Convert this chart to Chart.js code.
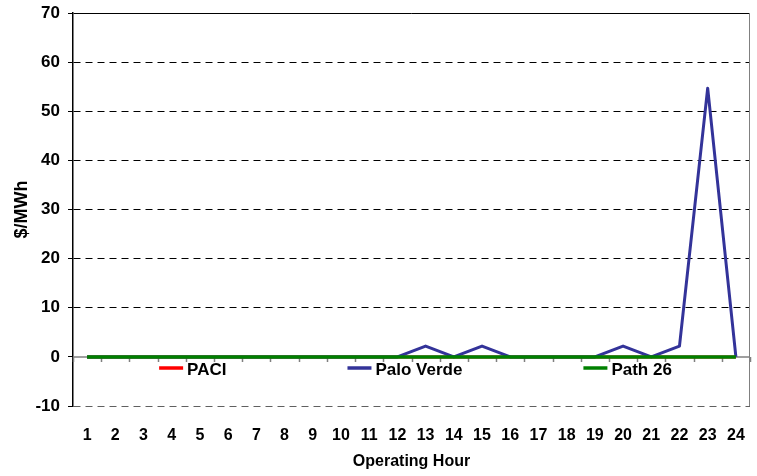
<!DOCTYPE html>
<html>
<head>
<meta charset="utf-8">
<script src="https://cdn.jsdelivr.net/npm/chart.js@4"></script>
<style>
  html, body { margin: 0; padding: 0; background: #fff; }
  #wrap { width: 757px; height: 476px; }
</style>
</head>
<body>
<div id="wrap"><canvas id="chart" width="757" height="476"></canvas></div>
<script>
// Operating hours (x categories)
const hours = ['1', '2', '3', '4', '5', '6', '7', '8', '9', '10', '11', '12',
               '13', '14', '15', '16', '17', '18', '19', '20', '21', '22', '23', '24'];

// $/MWh per hour
const paci      = [0, 0, 0, 0, 0, 0, 0, 0, 0, 0, 0, 0, 0, 0, 0, 0, 0, 0, 0, 0, 0, 0, 0, 0];
const paloVerde = [0, 0, 0, 0, 0, 0, 0, 0, 0, 0, 0, 0, 2.2, 0, 2.2, 0, 0, 0, 0, 2.2, 0, 2.2, 54.7, 0];
const path26    = [0, 0, 0, 0, 0, 0, 0, 0, 0, 0, 0, 0, 0, 0, 0, 0, 0, 0, 0, 0, 0, 0, 0, 0];

const FONT = 'Arial, "Liberation Sans", Helvetica, sans-serif';

// Zero axis line, category tick marks, frame and the in-plot legend
const frameAndLegend = {
    id: 'frameAndLegend',
    beforeDatasetsDraw(chart) {
        const { ctx, chartArea: a, scales: { x, y } } = chart;
        const y0 = y.getPixelForValue(0);
        ctx.save();
        ctx.strokeStyle = '#808080';
        ctx.lineWidth = 1.5;
        ctx.beginPath();
        ctx.moveTo(a.left, y0);
        ctx.lineTo(a.right, y0);
        for (let i = 0; i <= hours.length; i++) {
            const px = Math.round(x.getPixelForValue(i - 0.5)) + 0.5;
            ctx.moveTo(px, y0);
            ctx.lineTo(px, y0 + 5);
        }
        ctx.stroke();
        // right frame
        ctx.strokeStyle = '#808080';
        ctx.lineWidth = 1;
        ctx.beginPath();
        ctx.moveTo(a.right - 0.5, a.top);
        ctx.lineTo(a.right - 0.5, a.bottom);
        ctx.stroke();
        ctx.restore();
    },
    afterDraw(chart) {
        const { ctx, chartArea: a } = chart;
        const items = chart.data.datasets.slice().sort((p, q) => p.legendPos - q.legendPos);
        ctx.save();
        ctx.font = 'bold 17px ' + FONT;
        ctx.textBaseline = 'middle';
        const gap = 121;
        const widths = items.map(d => 28 + ctx.measureText(d.label).width);
        const total = widths.reduce((s, w) => s + w, 0) + gap * (items.length - 1);
        let lx = (a.left + a.right) / 2 + 4 - total / 2;
        const ly = a.top + 355;
        items.forEach((d, i) => {
            ctx.strokeStyle = d.borderColor;
            ctx.lineWidth = 3.5;
            ctx.beginPath();
            ctx.moveTo(lx, ly);
            ctx.lineTo(lx + 24, ly);
            ctx.stroke();
            ctx.fillStyle = '#000';
            ctx.fillText(d.label, lx + 28, ly + 2);
            lx += widths[i] + gap;
        });
        ctx.restore();
    }
};

new Chart(document.getElementById('chart'), {
    type: 'line',
    data: {
        labels: hours,
        datasets: [
            { label: 'Path 26', data: path26, borderColor: '#008000', borderWidth: 3.5, order: 0, legendPos: 2 },
            { label: 'Palo Verde', data: paloVerde, borderColor: '#333399', order: 1, legendPos: 1 },
            { label: 'PACI', data: paci, borderColor: '#FF0000', order: 2, legendPos: 0 }
        ].map(d => Object.assign({
            borderWidth: 3,
            borderJoinStyle: 'round',
            pointRadius: 0,
            pointHoverRadius: 0,
            tension: 0,
            fill: false
        }, d))
    },
    options: {
        responsive: false,
        animation: false,
        layout: { padding: { top: 13, right: 7, bottom: 0, left: 0 } },
        plugins: {
            legend: { display: false },
            tooltip: { enabled: false }
        },
        scales: {
            x: {
                type: 'category',
                offset: true,
                grid: { display: false, drawTicks: false },
                border: { display: false },
                ticks: {
                    autoSkip: false,
                    maxRotation: 0,
                    padding: 20,
                    color: '#000',
                    font: { family: FONT, size: 16, weight: 'bold' }
                },
                title: {
                    display: true,
                    text: 'Operating Hour',
                    color: '#000',
                    padding: { top: 0, bottom: 5 },
                    font: { family: FONT, size: 16, weight: 'bold' }
                },
                afterFit(scale) {
                    scale.height = 70;
                    scale.paddingLeft = 0;
                    scale.paddingRight = 0;
                }
            },
            y: {
                min: -10,
                max: 70,
                ticks: {
                    stepSize: 10,
                    padding: 8,
                    color: '#000',
                    font: { family: FONT, size: 17, weight: 'bold' }
                },
                grid: {
                    drawTicks: true,
                    tickLength: 5,
                    tickColor: '#000',
                    lineWidth: 1,
                    color: ctx => {
                        const v = ctx.tick ? ctx.tick.value : null;
                        if (v === 0) return 'rgba(0,0,0,0)';
                        if (v === -10) return '#606060';
                        return '#000';
                    }
                },
                border: {
                    display: true,
                    color: '#000',
                    width: 1.5,
                    dash: ctx => {
                        const v = ctx.tick ? ctx.tick.value : null;
                        return (v === 70 || v === null) ? [] : [7, 5];
                    }
                },
                title: {
                    display: true,
                    text: '$/MWh',
                    color: '#000',
                    padding: { top: 11, bottom: 0 },
                    font: { family: FONT, size: 18, weight: 'bold' }
                },
                afterFit(scale) {
                    scale.width = 73;
                    scale.paddingTop = 0;
                    scale.paddingBottom = 0;
                }
            }
        }
    },
    plugins: [frameAndLegend]
});
</script>
</body>
</html>
